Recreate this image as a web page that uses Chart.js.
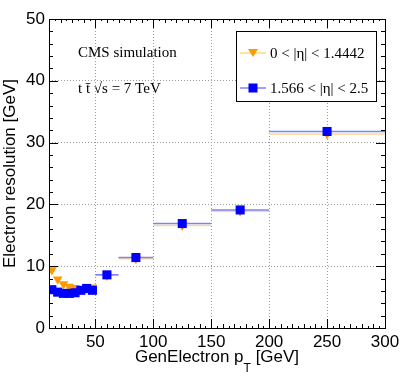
<!DOCTYPE html>
<html>
<head>
<meta charset="utf-8">
<script src="https://cdn.jsdelivr.net/npm/chart.js@4.4.0/dist/chart.umd.min.js"></script>
<style>
  html, body { margin: 0; padding: 0; background: #fff; }
  #wrap { width: 407px; height: 392px; }
</style>
</head>
<body>
<div id="wrap"><canvas id="c" width="407" height="392"></canvas></div>
<script>
// bin edges in GenElectron pT [GeV]
const binLow  = [10, 15, 20, 25, 30, 35, 40, 45, 50, 70, 100, 150, 200];
const binHigh = [15, 20, 25, 30, 35, 40, 45, 50, 70, 100, 150, 200, 300];
const binCentre = [12.5, 17.5, 22.5, 27.5, 32.5, 37.5, 42.5, 47.5, 60, 85, 125, 175, 250];

// electron resolution [GeV]
const barrelRes = [9.4, 7.9, 7.1, 6.7, 6.5, 6.3, 6.4, 6.6, 8.5, 11.2, 16.6, 18.9, 31.4];
const endcapRes = [6.2, 5.8, 5.6, 5.6, 5.7, 6.1, 6.4, 6.1, 8.6, 11.4, 16.9, 19.1, 31.8];

const seriesLabels = ['0 < |\u03b7| < 1.4442', '1.566 < |\u03b7| < 2.5'];
const xTickValues = [50, 100, 150, 200, 250, 300];

const orange = '#ff9900';
const orangeBar = '#ffd98a';
const blue = '#0000ff';
const blueBar = '#8080ff';

function points(vals) {
  return binCentre.map((x, i) => ({ x: x, y: vals[i] }));
}
// horizontal bin-width bars: two points per bin, broken by a null
function binBars(vals) {
  const out = [];
  vals.forEach((v, i) => {
    out.push({ x: binLow[i], y: v });
    out.push({ x: binHigh[i], y: v });
    out.push({ x: binHigh[i], y: null });
  });
  return out;
}

const serif = "'Liberation Serif', 'Times New Roman', serif";
const sans = "'Liberation Sans', Arial, sans-serif";

// ROOT style frame ticks, drawn inward on all four sides
const frameTicks = {
  id: 'frameTicks',
  afterDraw(chart) {
    const ctx = chart.ctx;
    const a = chart.chartArea;
    const xs = chart.scales.x, ys = chart.scales.y;
    ctx.save();
    ctx.strokeStyle = '#000';
    ctx.lineWidth = 1;
    ctx.beginPath();
    for (let v = 10; v <= 300; v += 5) {
      const px = Math.round(xs.getPixelForValue(v)) + 0.5;
      let len = 2;
      if (v % 50 === 0) len = 9; else if (v % 10 === 0) len = 4;
      ctx.moveTo(px, a.bottom); ctx.lineTo(px, a.bottom - len);
      ctx.moveTo(px, a.top); ctx.lineTo(px, a.top + len);
    }
    for (let v = 0; v <= 50; v += 2) {
      const py = Math.round(ys.getPixelForValue(v)) + 0.5;
      const len = v % 10 === 0 ? 9 : 4;
      ctx.moveTo(a.left, py); ctx.lineTo(a.left + len, py);
      ctx.moveTo(a.right, py); ctx.lineTo(a.right - len, py);
    }
    ctx.stroke();
    ctx.strokeRect(Math.round(a.left) + 0.5, Math.round(a.top) + 0.5,
      Math.round(a.right - a.left), Math.round(a.bottom - a.top));
    ctx.restore();
  }
};

// text labels, legend box and x-axis title with subscript
const annotations = {
  id: 'annotations',
  afterDraw(chart) {
    const ctx = chart.ctx;
    ctx.save();
    ctx.fillStyle = '#000';
    ctx.textBaseline = 'alphabetic';
    ctx.font = '15px ' + serif;
    ctx.fillText('CMS simulation', 78, 57);
    ctx.fillText('t t\u0304 \u221as = 7 TeV', 78, 93);

    // legend
    ctx.fillStyle = '#fff';
    ctx.fillRect(236, 31, 140, 70);
    ctx.strokeStyle = '#000';
    ctx.lineWidth = 1;
    ctx.strokeRect(236.5, 31.5, 140, 70);
    const rows = [
      { y: 53, line: orangeBar, mark: orange, tri: true },
      { y: 88, line: blueBar, mark: blue, tri: false }
    ];
    rows.forEach((r, i) => {
      ctx.strokeStyle = r.line;
      ctx.lineWidth = 1.5;
      ctx.beginPath();
      ctx.moveTo(240, r.y); ctx.lineTo(266, r.y);
      ctx.stroke();
      ctx.fillStyle = r.mark;
      ctx.beginPath();
      if (r.tri) {
        ctx.moveTo(248, r.y - 4); ctx.lineTo(258, r.y - 4); ctx.lineTo(253, r.y + 4);
      } else {
        ctx.rect(248.5, r.y - 4.5, 9, 9);
      }
      ctx.fill();
      ctx.fillStyle = '#000';
      ctx.font = '15px ' + serif;
      ctx.fillText(seriesLabels[i], 270, r.y + 5);
    });

    // x title
    ctx.font = '17px ' + sans;
    const t1 = 'GenElectron p';
    const t2 = 'T';
    const t3 = ' [GeV]';
    const w1 = ctx.measureText(t1).width;
    ctx.font = '12px ' + sans;
    const w2 = ctx.measureText(t2).width;
    ctx.font = '17px ' + sans;
    const w3 = ctx.measureText(t3).width;
    const x0 = 217 - (w1 + w2 + w3) / 2;
    ctx.fillText(t1, x0, 362);
    ctx.font = '12px ' + sans;
    ctx.fillText(t2, x0 + w1, 372);
    ctx.font = '17px ' + sans;
    ctx.fillText(t3, x0 + w1 + w2, 362);
    ctx.restore();
  }
};

new Chart(document.getElementById('c'), {
  type: 'scatter',
  data: {
    datasets: [
      {
        label: seriesLabels[0] + ' bins',
        type: 'line',
        data: binBars(barrelRes),
        borderColor: orangeBar,
        borderWidth: 1.5,
        pointRadius: 0,
        spanGaps: false,
        order: 4
      },
      {
        label: seriesLabels[0],
        data: points(barrelRes),
        backgroundColor: orange,
        borderColor: orange,
        borderWidth: 0,
        pointStyle: 'triangle',
        rotation: 180,
        pointRadius: 5.5,
        order: 3
      },
      {
        label: seriesLabels[1] + ' bins',
        type: 'line',
        data: binBars(endcapRes),
        borderColor: blueBar,
        borderWidth: 1.5,
        pointRadius: 0,
        spanGaps: false,
        order: 2
      },
      {
        label: seriesLabels[1],
        data: points(endcapRes),
        backgroundColor: blue,
        borderColor: blue,
        borderWidth: 0,
        pointStyle: 'rect',
        pointRadius: 6.4,
        order: 1
      }
    ]
  },
  options: {
    responsive: false,
    animation: false,
    layout: { padding: { left: 0, right: 22, top: 19, bottom: 0 } },
    plugins: {
      legend: { display: false },
      tooltip: { enabled: false }
    },
    scales: {
      x: {
        type: 'linear',
        min: 10,
        max: 300,
        afterBuildTicks(scale) {
          scale.ticks = xTickValues.map(v => ({ value: v }));
        },
        afterFit(scale) { scale.height = 64; },
        grid: {
          color: '#9a9a9a',
          lineWidth: 1,
          drawTicks: false
        },
        border: { display: false, dash: [1, 2] },
        ticks: {
          color: '#000',
          padding: 4,
          maxRotation: 0,
          font: { family: sans, size: 17 }
        }
      },
      y: {
        min: 0,
        max: 50,
        ticks: {
          stepSize: 10,
          color: '#000',
          padding: 4,
          font: { family: sans, size: 17 }
        },
        afterFit(scale) { scale.width = 49; },
        grid: {
          color: '#9a9a9a',
          lineWidth: 1,
          drawTicks: false
        },
        border: { display: false, dash: [1, 2] },
        title: {
          display: true,
          text: 'Electron resolution [GeV]',
          color: '#000',
          padding: { top: 0, bottom: 0 },
          font: { family: sans, size: 17 }
        }
      }
    }
  },
  plugins: [frameTicks, annotations]
});
</script>
</body>
</html>
